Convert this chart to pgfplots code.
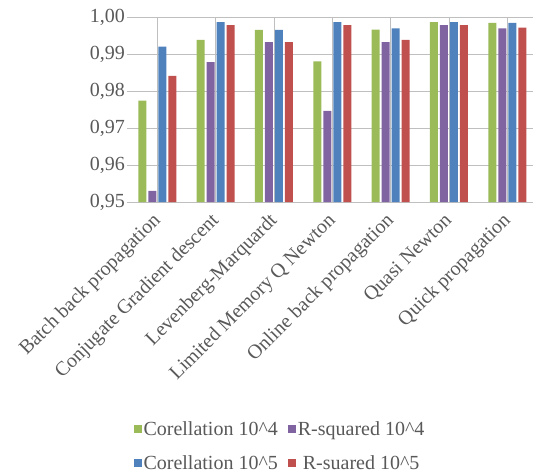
\documentclass[border=0pt]{standalone}
\usepackage{fontspec}
\setmainfont{Liberation Serif}
\usepackage{pgfplots}
\pgfplotsset{compat=1.18}

\definecolor{cgreen}{HTML}{9BBB59}
\definecolor{cpurple}{HTML}{8064A2}
\definecolor{cblue}{HTML}{4F81BD}
\definecolor{cred}{HTML}{C0504D}
\definecolor{txt}{HTML}{595959}
\definecolor{grid}{HTML}{D9D9D9}

\begin{document}
\begin{tikzpicture}
\path[use as bounding box] (-127pt,-272pt) rectangle (406pt,202pt);
\begin{axis}[
  scale only axis,
  width=406pt, height=185pt,
  ybar=2pt, bar width=8pt,
  xmin=-0.52, xmax=6.44,
  ymin=0.95, ymax=1.0,
  ytick={0.95,0.96,0.97,0.98,0.99,1.00},
  yticklabel style={font=\fontsize{20}{22}\selectfont, inner sep=2pt,
    /pgf/number format/fixed, /pgf/number format/fixed zerofill,
    /pgf/number format/precision=2, /pgf/number format/use comma,
    /pgf/number format/assume math mode=true},
  ymajorgrids, grid style={grid, line width=0.8pt},
  axis line style={draw=none},
  tick style={draw=none},
  major tick length=0pt,
  xtick=data,
  xticklabels={Batch back propagation, Conjugate Gradient descent, Levenberg-Marquardt, Limited Memory Q Newton, Online back propagation, Quasi Newton, Quick propagation},
  xticklabel style={xshift=-6pt, yshift=-8pt, rotate=45, anchor=north east, inner sep=1pt, font=\fontsize{20}{22}\selectfont},
  tick label style={text=txt},
  legend columns=2,
  legend style={draw=none, at={(153pt,-244pt)}, anchor=center, font=\fontsize{20}{22}\selectfont, text=txt,
    /tikz/every even column/.append style={column sep=8pt}, row sep=15pt},
  legend image code/.code={\fill[#1] (0pt,-4pt) rectangle (8pt,4pt);},
]
\addplot[fill=cgreen, draw=none] coordinates {(0,0.9774) (1,0.9938) (2,0.9965) (3,0.9880) (4,0.9966) (5,0.9986) (6,0.9984)};
\addplot[fill=cpurple, draw=none] coordinates {(0,0.9530) (1,0.9878) (2,0.9932) (3,0.9746) (4,0.9932) (5,0.9978) (6,0.9969)};
\addplot[fill=cblue, draw=none] coordinates {(0,0.9920) (1,0.9986) (2,0.9965) (3,0.9986) (4,0.9969) (5,0.9986) (6,0.9984)};
\addplot[fill=cred, draw=none] coordinates {(0,0.9841) (1,0.9978) (2,0.9932) (3,0.9978) (4,0.9938) (5,0.9978) (6,0.9971)};
\legend{Corellation 10\^{}4, R-squared 10\^{}4, Corellation 10\^{}5, R-suared 10\^{}5}
\end{axis}
\end{tikzpicture}
\end{document}
